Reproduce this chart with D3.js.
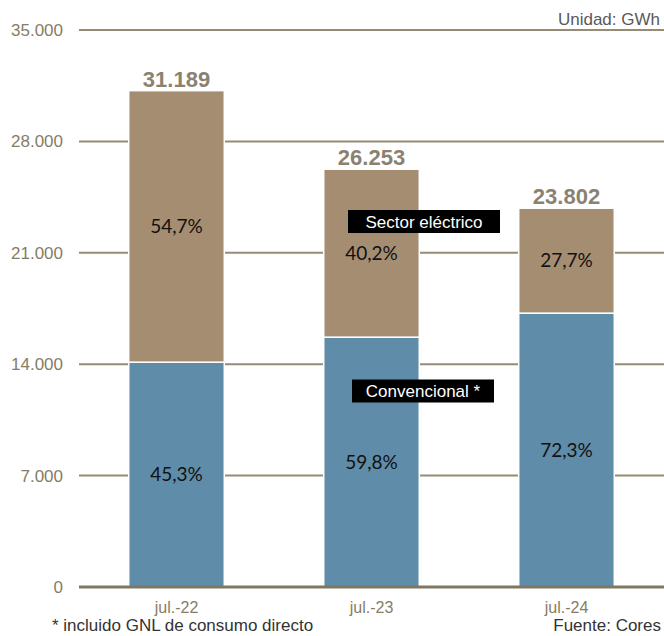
<!DOCTYPE html>
<html>
<head>
<meta charset="utf-8">
<script src="https://cdn.jsdelivr.net/npm/d3@7"></script>
<style>
  html, body { margin: 0; padding: 0; background: #fff; }
  svg { display: block; }
</style>
</head>
<body>
<svg id="chart" width="664" height="636"></svg>
<script>
// Gas consumption by segment, GWh
const categories = ["jul.-22", "jul.-23", "jul.-24"];
const totals = [31189, 26253, 23802];
const sharesConvencional = [45.3, 59.8, 72.3];
const sharesElectrico = [54.7, 40.2, 27.7];
const yTicks = [0, 7000, 14000, 21000, 28000, 35000];
const seriesNames = ["Convencional *", "Sector eléctrico"];

const fmtThousands = d3.formatLocale({ decimal: ",", thousands: ".", grouping: [3], currency: ["", "€"] }).format(",.0f");
const fmtPct = v => v.toFixed(1).replace(".", ",") + "%";

const svg = d3.select("#chart");
const W = 664, H = 636;
const margin = { left: 79, right: 0, top: 30, bottom: 49 };
const sans = "'Liberation Sans', Arial, sans-serif";

const x = d3.scaleBand()
  .domain(categories)
  .range([margin.left, W - margin.right])
  .paddingInner(0.51)
  .paddingOuter(0.255);

const y = d3.scaleLinear()
  .domain([0, 35000])
  .range([H - margin.bottom, margin.top]);

const gridColor = "#948c74";
const axisTextColor = "#857d66";
const colConv = "#5f8ca8";
const colElec = "#a58d72";

// gridlines
svg.append("g")
  .selectAll("line")
  .data(yTicks.filter(d => d > 0))
  .join("line")
  .attr("x1", margin.left)
  .attr("x2", W)
  .attr("y1", d => y(d))
  .attr("y2", d => y(d))
  .attr("stroke", gridColor)
  .attr("stroke-width", 2);

// y axis labels
const yAxis = d3.axisLeft(y).tickValues(yTicks).tickSize(0).tickPadding(0)
  .tickFormat(d => d === 0 ? "0" : fmtThousands(d));
const gy = svg.append("g").attr("transform", `translate(63,0)`).call(yAxis);
gy.select(".domain").remove();
gy.selectAll("text")
  .attr("font-family", sans)
  .attr("font-size", 17)
  .attr("fill", axisTextColor);

// stacked data
const stackData = categories.map((c, i) => {
  const conv = totals[i] * sharesConvencional[i] / 100;
  return { cat: c, conv, elec: totals[i] - conv, total: totals[i], pc: sharesConvencional[i], pe: sharesElectrico[i] };
});

const bars = svg.append("g");
bars.selectAll("rect.conv")
  .data(stackData)
  .join("rect")
  .attr("class", "conv")
  .attr("x", d => x(d.cat))
  .attr("width", x.bandwidth())
  .attr("y", d => y(d.conv))
  .attr("height", d => y(0) - y(d.conv))
  .attr("fill", colConv)
  .attr("stroke", "#fff")
  .attr("stroke-width", 1.5);

bars.selectAll("rect.elec")
  .data(stackData)
  .join("rect")
  .attr("class", "elec")
  .attr("x", d => x(d.cat))
  .attr("width", x.bandwidth())
  .attr("y", d => y(d.total))
  .attr("height", d => y(d.conv) - y(d.total))
  .attr("fill", colElec)
  .attr("stroke", "#fff")
  .attr("stroke-width", 1.5);

// zero axis line
svg.append("line")
  .attr("x1", margin.left).attr("x2", W)
  .attr("y1", y(0)).attr("y2", y(0))
  .attr("stroke", "#7f7760")
  .attr("stroke-width", 3);

// percentage labels
const pctFont = "Lato, 'Open Sans', sans-serif";
svg.append("g").selectAll("text")
  .data(stackData)
  .join("text")
  .attr("x", d => x(d.cat) + x.bandwidth() / 2)
  .attr("y", d => (y(0) + y(d.conv)) / 2)
  .attr("dy", "0.35em")
  .attr("text-anchor", "middle")
  .attr("font-family", pctFont)
  .attr("font-size", 19)
  .attr("fill", "#111")
  .text(d => fmtPct(d.pc));

svg.append("g").selectAll("text")
  .data(stackData)
  .join("text")
  .attr("x", d => x(d.cat) + x.bandwidth() / 2)
  .attr("y", d => (y(d.conv) + y(d.total)) / 2)
  .attr("dy", "0.35em")
  .attr("text-anchor", "middle")
  .attr("font-family", pctFont)
  .attr("font-size", 19)
  .attr("fill", "#111")
  .text(d => fmtPct(d.pe));

// totals
svg.append("g").selectAll("text")
  .data(stackData)
  .join("text")
  .attr("x", d => x(d.cat) + x.bandwidth() / 2)
  .attr("y", d => y(d.total) - 4)
  .attr("text-anchor", "middle")
  .attr("font-family", sans)
  .attr("font-weight", "bold")
  .attr("font-size", 22)
  .attr("fill", "#8a8270")
  .text(d => fmtThousands(d.total));

// x axis labels
const xAxis = d3.axisBottom(x).tickSize(0).tickPadding(0);
const gx = svg.append("g").attr("transform", `translate(0,${y(0) + 26})`).call(xAxis);
gx.select(".domain").remove();
gx.selectAll("text")
  .attr("dy", 0)
  .attr("font-family", sans)
  .attr("font-size", 16)
  .attr("fill", axisTextColor);

// series labels in black boxes
const legendItems = [
  { name: seriesNames[1], cx: 424, cy: 221.5, w: 152, h: 23 },
  { name: seriesNames[0], cx: 423, cy: 391, w: 142, h: 23 }
];
const lg = svg.append("g").selectAll("g").data(legendItems).join("g");
lg.append("rect")
  .attr("x", d => d.cx - d.w / 2)
  .attr("y", d => d.cy - d.h / 2)
  .attr("width", d => d.w)
  .attr("height", d => d.h)
  .attr("fill", "#000");
lg.append("text")
  .attr("x", d => d.cx)
  .attr("y", d => d.cy)
  .attr("dy", "0.36em")
  .attr("text-anchor", "middle")
  .attr("font-family", sans)
  .attr("font-size", 17)
  .attr("fill", "#fff")
  .text(d => d.name);

// unit and notes
svg.append("text")
  .attr("x", 660).attr("y", 25)
  .attr("text-anchor", "end")
  .attr("font-family", sans)
  .attr("font-size", 17)
  .attr("fill", "#595959")
  .text("Unidad: GWh");

svg.append("text")
  .attr("x", 52).attr("y", 631)
  .attr("font-family", sans)
  .attr("font-size", 17)
  .attr("fill", "#333")
  .text("* incluido GNL de consumo directo");

svg.append("text")
  .attr("x", 661).attr("y", 631)
  .attr("text-anchor", "end")
  .attr("font-family", sans)
  .attr("font-size", 17)
  .attr("fill", "#333")
  .text("Fuente: Cores");
</script>
</body>
</html>
